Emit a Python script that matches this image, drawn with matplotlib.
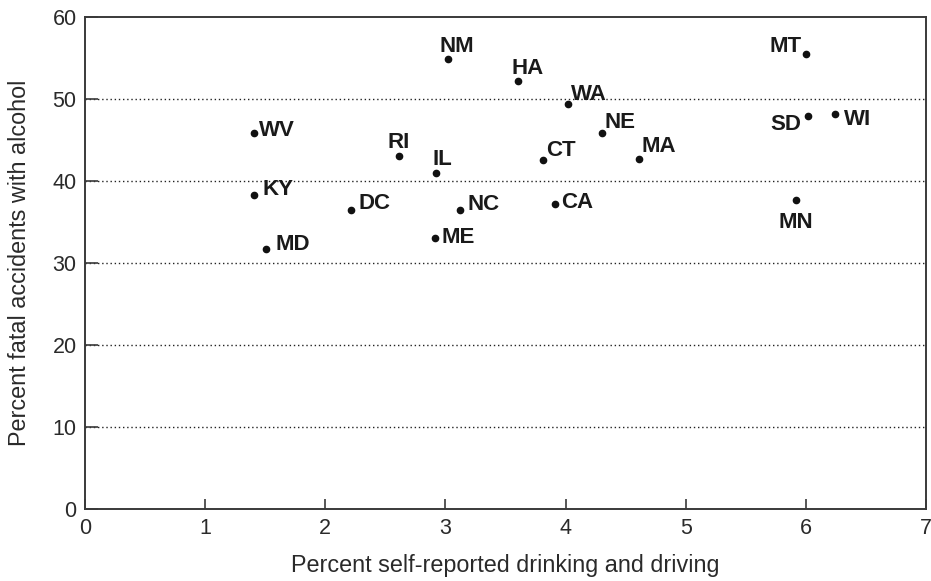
import matplotlib
matplotlib.use('Agg')
import matplotlib.pyplot as plt

# Data
states = ['NM', 'HA', 'WA', 'MT', 'NE', 'SD', 'WI', 'CT', 'MA', 'CA', 'MN',
          'WV', 'RI', 'IL', 'KY', 'DC', 'NC', 'MD', 'ME']
drink_drive = [3.02, 3.60, 4.02, 6.00, 4.30, 6.02, 6.24, 3.81, 4.61, 3.91, 5.92,
               1.41, 2.61, 2.92, 1.41, 2.21, 3.12, 1.51, 2.91]
fatal_alcohol = [54.9, 52.2, 49.4, 55.4, 45.8, 47.9, 48.2, 42.5, 42.7, 37.2, 37.7,
                 45.8, 43.0, 41.0, 38.3, 36.4, 36.5, 31.7, 33.0]

x_ticks = [0, 1, 2, 3, 4, 5, 6, 7]
y_ticks = [0, 10, 20, 30, 40, 50, 60]
grid_levels = [10, 20, 30, 40, 50]

# Label placement relative to each dot: (dx px, dy px, horizontal alignment)
label_offsets = {
    'NM': (-8, 7, 'left'), 'HA': (-6, 7, 'left'), 'WA': (3, 4, 'left'),
    'MT': (-4, 2, 'right'), 'NE': (3, 5, 'left'), 'SD': (-7, -14, 'right'),
    'WI': (9, -11, 'left'), 'CT': (3, 4, 'left'), 'MA': (3, 7, 'left'),
    'CA': (6, -4, 'left'), 'MN': (0, -28, 'center'), 'WV': (5, -3, 'left'),
    'RI': (0, 8, 'center'), 'IL': (-3, 8, 'left'), 'KY': (8, 0, 'left'),
    'DC': (8, 1, 'left'), 'NC': (8, 0, 'left'), 'MD': (9, -1, 'left'),
    'ME': (7, -5, 'left'),
}

plt.rcParams['font.family'] = ['Liberation Sans', 'DejaVu Sans']
spine_color = '#3a3a3a'
text_color = '#2a2a2a'

fig = plt.figure(figsize=(9.31, 5.81), dpi=100)
ax = fig.add_axes([0.0913, 0.1234, 0.9033, 0.8479])

# Dotted horizontal reference lines
for level in grid_levels:
    ax.axhline(level, color='#222222', linestyle=(0, (1, 2)), linewidth=1.0, zorder=1)

# Points
ax.plot(drink_drive, fatal_alcohol, 'o', color='#111111', markersize=4.5, zorder=3)

# State labels
for name, xv, yv in zip(states, drink_drive, fatal_alcohol):
    dx, dy, ha = label_offsets[name]
    ax.annotate(name, (xv, yv), xytext=(dx, dy), textcoords='offset pixels',
                ha=ha, va='baseline', fontsize=16, fontweight='bold',
                color='#1a1a1a', zorder=4)

ax.set_xlim(0, 7)
ax.set_ylim(0, 60)
ax.set_xticks(x_ticks)
ax.set_yticks(y_ticks)

for spine in ax.spines.values():
    spine.set_color(spine_color)
    spine.set_linewidth(1.4)

ax.tick_params(axis='both', direction='in', color=spine_color, width=1.2,
               labelsize=15.5, labelcolor=text_color)
ax.tick_params(axis='x', length=7.5, pad=6)
ax.tick_params(axis='y', length=9, pad=6)

ax.set_xlabel('Percent self-reported drinking and driving', fontsize=16.8, color=text_color)
ax.set_ylabel('Percent fatal accidents with alcohol', fontsize=16.8, color=text_color)
ax.xaxis.set_label_coords(0.5, -0.09)
ax.yaxis.set_label_coords(-0.064, 0.5)

fig.savefig('out.png', dpi=100)
